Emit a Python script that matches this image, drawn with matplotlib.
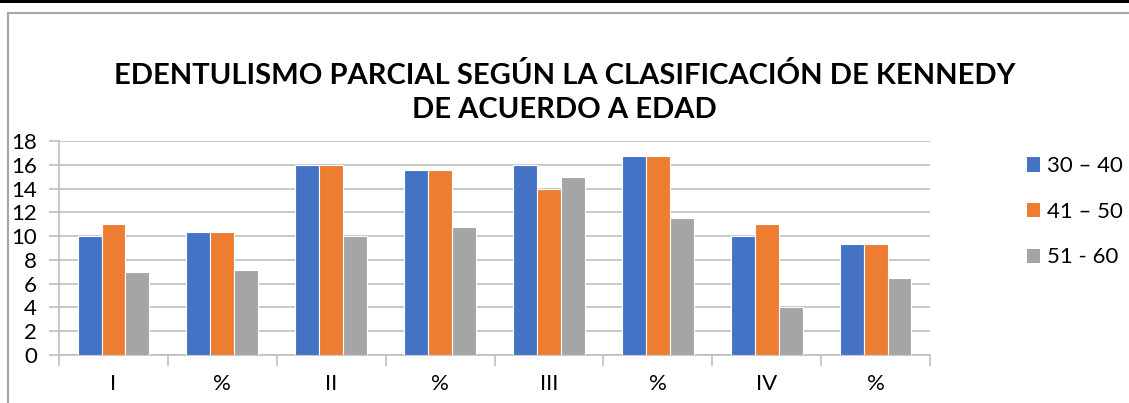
import numpy as np
import matplotlib
matplotlib.use("Agg")
import matplotlib.pyplot as plt
from matplotlib.lines import Line2D
from matplotlib.patches import Patch, Rectangle

plt.rcParams['font.family'] = ['Lato', 'DejaVu Sans']

categories = ["I", "%", "II", "%", "III", "%", "IV", "%"]
series_names = ["30 – 40", "41 – 50", "51 - 60"]
vals_30_40 = [10, 10.35, 16, 15.6, 16, 16.7, 10, 9.3]
vals_41_50 = [11, 10.35, 16, 15.6, 14, 16.7, 11, 9.3]
vals_51_60 = [7, 7.15, 10, 10.8, 15, 11.55, 4, 6.45]
colors = ["#4472C4", "#ED7D31", "#A5A5A5"]

fig = plt.figure(figsize=(11.29, 4.03), dpi=100)
ax = fig.add_axes([0.0523, 0.1191, 0.7714, 0.531])

x = np.arange(len(categories))
w = 0.22
for i, (vals, c, name) in enumerate(zip([vals_30_40, vals_41_50, vals_51_60], colors, series_names)):
    ax.bar(x + (i - 1) * w, vals, width=w, color=c, edgecolor="white", linewidth=0.8, label=name, zorder=3)

ax.set_xlim(-0.5, len(categories) - 0.5)
ax.set_ylim(0, 18)
ax.set_yticks(np.arange(0, 19, 2))
ax.yaxis.grid(True, color="#BFBFBF", linewidth=1.2, zorder=0)
ax.set_axisbelow(True)

# category labels centered, ticks at the boundaries
ax.set_xticks(x)
ax.set_xticklabels(categories, fontsize=16)
ax.tick_params(axis="x", length=0, pad=14)
ax.set_xticks(np.arange(-0.5, len(categories)), minor=True)
ax.tick_params(axis="x", which="minor", length=8, color="#BFBFBF", width=1.2)
ax.tick_params(axis="y", length=7, color="#BFBFBF", width=1.2, labelsize=16, pad=9)

for s in ["top", "right"]:
    ax.spines[s].set_visible(False)
for s in ["left", "bottom"]:
    ax.spines[s].set_color("#BFBFBF")
    ax.spines[s].set_linewidth(1.2)

fig.text(0.5, 0.813, "EDENTULISMO PARCIAL SEGÚN LA CLASIFICACIÓN DE KENNEDY",
         ha="center", va="center", fontsize=21, fontweight="bold")
fig.text(0.5, 0.728, "DE ACUERDO A EDAD",
         ha="center", va="center", fontsize=21, fontweight="bold")

handles = [Patch(facecolor=c, edgecolor="none") for c in colors]
fig.legend(handles, series_names, loc="upper left", bbox_to_anchor=(0.9097, 0.612),
           frameon=False, fontsize=16, handlelength=0.6, handleheight=0.6,
           handletextpad=0.3, labelspacing=1.15, borderaxespad=0, borderpad=0)

# frame of the screenshot
fig.add_artist(Rectangle((0, 1 - 2.5 / 403), 1, 2.5 / 403, transform=fig.transFigure,
                         facecolor="black", edgecolor="none"))
fig.add_artist(Line2D([8 / 1129, 1], [1 - 13 / 403, 1 - 13 / 403], transform=fig.transFigure,
                      color="#A6A6A6", linewidth=1.5))
fig.add_artist(Line2D([8 / 1129, 8 / 1129], [0, 1 - 13 / 403], transform=fig.transFigure,
                      color="#A6A6A6", linewidth=1.5))

fig.savefig("out.png", dpi=100)
